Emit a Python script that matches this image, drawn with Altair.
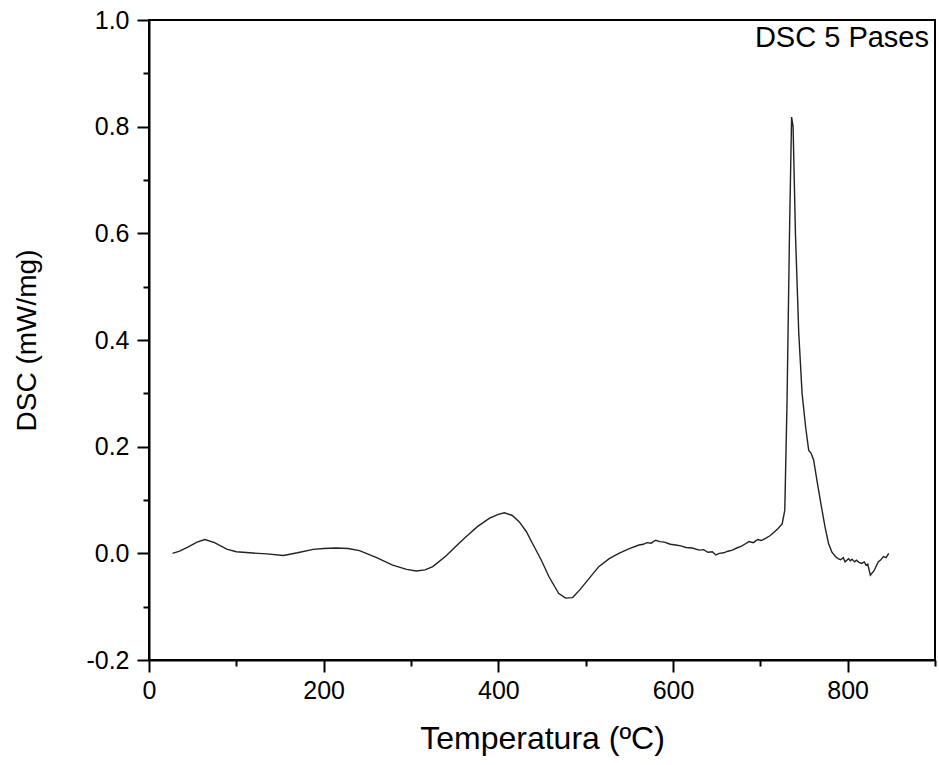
import altair as alt
import pandas as pd

temperature = [27, 35, 45, 55, 64, 75, 89, 100, 115, 135, 154, 170, 188, 200, 214, 228,
               241, 260, 279, 295, 306, 316, 325, 340, 355, 363, 376, 390, 400, 407, 416,
               424, 432, 439, 449, 458, 469, 477, 485, 493, 504, 515, 527, 538, 550, 561,
               566, 570, 575, 580, 585, 590, 597, 603, 609, 615, 622, 630, 635, 640, 645,
               649, 653, 658, 663, 668, 673, 678, 683, 687, 692, 697, 701, 706, 711, 716,
               720, 725, 728, 730.6, 733.4, 735.8, 737.5, 740.2, 744, 747.8, 752, 755.4,
               758, 761, 766, 770, 774, 778, 782, 786, 789, 792, 795, 797, 801, 803, 805,
               808, 810, 813, 816, 819, 821, 823, 826, 830, 835, 838, 841, 844, 847]
dsc = [0.0, 0.004, 0.012, 0.021, 0.026, 0.020, 0.008, 0.003, 0.001, -0.001, -0.004,
       0.001, 0.0075, 0.009, 0.010, 0.009, 0.005, -0.0075, -0.022, -0.030, -0.033,
       -0.031, -0.025, -0.005, 0.019, 0.031, 0.050, 0.066, 0.073, 0.076, 0.071, 0.059,
       0.041, 0.019, -0.012, -0.044, -0.075, -0.084, -0.083, -0.069, -0.047, -0.025,
       -0.010, 0.0, 0.009, 0.0156, 0.017, 0.020, 0.019, 0.0245, 0.022, 0.021, 0.017,
       0.0156, 0.014, 0.011, 0.010, 0.006, 0.007, 0.002, 0.003, -0.003, 0.000, 0.001,
       0.004, 0.006, 0.010, 0.013, 0.018, 0.022, 0.020, 0.026, 0.024, 0.028, 0.033,
       0.040, 0.046, 0.055, 0.081, 0.287, 0.60, 0.818, 0.80, 0.60, 0.413, 0.30, 0.235,
       0.193, 0.188, 0.175, 0.125, 0.087, 0.05, 0.019, 0.002, -0.006, -0.010, -0.012,
       -0.008, -0.016, -0.010, -0.014, -0.011, -0.016, -0.013, -0.017, -0.019, -0.016,
       -0.022, -0.020, -0.041, -0.033, -0.016, -0.012, -0.006, -0.008, 0.0]

x_ticks = [0, 100, 200, 300, 400, 500, 600, 700, 800, 900]
y_ticks = [-0.2, -0.1, 0.0, 0.1, 0.2, 0.3, 0.4, 0.5, 0.6, 0.7, 0.8, 0.9, 1.0]
label_text = "DSC 5 Pases"

x_domain = [0, 900]
y_domain = [-0.2, 1.0]

# top and right edges of the plot box, traced as one polyline
frame_x = [0, 900, 900]
frame_y = [1.0, 1.0, -0.2]
frame_order = [0, 1, 2]

df = pd.DataFrame({"T": temperature, "DSC": dsc})
frame_df = pd.DataFrame({"fx": frame_x, "fy": frame_y, "o": frame_order})

FONT = "Liberation Sans"
W, H = 786, 640

x_axis = alt.Axis(
    values=x_ticks,
    labelExpr="datum.value % 200 === 0 ? datum.label : ''",
    tickSize={"condition": {"test": "datum.value % 200 === 0", "value": 12}, "value": 6},
    tickColor="black", tickWidth=2, domainColor="black", domainWidth=2,
    labelFont=FONT, labelFontSize=25, labelColor="black", labelPadding=6,
    title="Temperatura (ºC)", titleFont=FONT, titleFontSize=32, titleFontWeight="normal",
    titleColor="black", titlePadding=20, grid=False, labelFlush=False,
)
y_axis = alt.Axis(
    values=y_ticks,
    labelExpr="abs(round(datum.value*10)) % 2 === 0 ? (datum.value < -0.001 ? '-' + format(abs(datum.value), '.1f') : format(abs(datum.value), '.1f')) : ''",
    tickSize={"condition": {"test": "abs(round(datum.value*10)) % 2 === 0", "value": 12}, "value": 6},
    tickColor="black", tickWidth=2, domainColor="black", domainWidth=2,
    labelFont=FONT, labelFontSize=25, labelColor="black", labelPadding=8,
    title="DSC (mW/mg)", titleFont=FONT, titleFontSize=28, titleFontWeight="normal",
    titleColor="black", titlePadding=44, grid=False, labelFlush=False,
)

xs = alt.Scale(domain=x_domain, nice=False, zero=False)
ys = alt.Scale(domain=y_domain, nice=False, zero=False)

line = alt.Chart(df).mark_line(color="#222222", strokeWidth=1.4).encode(
    x=alt.X("T:Q", scale=xs, axis=x_axis),
    y=alt.Y("DSC:Q", scale=ys, axis=y_axis),
)

frame = alt.Chart(frame_df).mark_line(color="black", strokeWidth=2, strokeCap="square").encode(
    x=alt.X("fx:Q", scale=xs),
    y=alt.Y("fy:Q", scale=ys),
    order=alt.Order("o:Q"),
)

label = alt.Chart(pd.DataFrame({"t": [label_text]})).mark_text(
    align="right", baseline="alphabetic", font=FONT, fontSize=29, color="black"
).encode(text="t:N", x=alt.value(780), y=alt.value(27))

chart = alt.layer(line, frame, label).properties(
    width=W, height=H,
    padding={"left": 149, "top": 20, "right": 4, "bottom": 105},
    autosize=alt.AutoSizeParams(type="none"),
    background="white",
).configure_view(stroke="black", strokeWidth=2)

chart.save("out.html", embed_options={"renderer": "svg", "actions": False})
